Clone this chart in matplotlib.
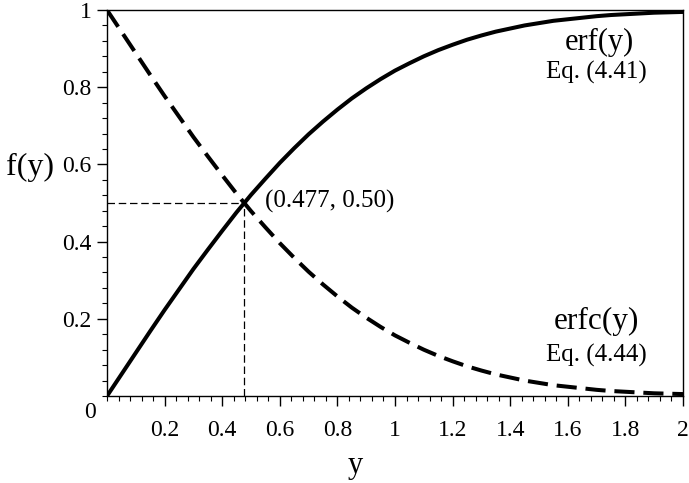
import matplotlib.pyplot as plt
from matplotlib.ticker import MultipleLocator

# DANE DO WYKRESU
y_vals = [0.00, 0.05, 0.10, 0.15, 0.20, 0.25, 0.30, 0.35, 0.40, 0.45,
          0.50, 0.55, 0.60, 0.65, 0.70, 0.75, 0.80, 0.85, 0.90, 0.95,
          1.00, 1.05, 1.10, 1.15, 1.20, 1.25, 1.30, 1.35, 1.40, 1.45,
          1.50, 1.55, 1.60, 1.65, 1.70, 1.75, 1.80, 1.85, 1.90, 1.95, 2.00]

erf_vals = [0.000, 0.056, 0.112, 0.168, 0.223, 0.276, 0.329, 0.379, 0.428, 0.476,
            0.521, 0.563, 0.604, 0.642, 0.678, 0.711, 0.742, 0.771, 0.797, 0.821,
            0.843, 0.862, 0.880, 0.896, 0.910, 0.923, 0.934, 0.944, 0.952, 0.960,
            0.966, 0.972, 0.976, 0.980, 0.984, 0.987, 0.989, 0.991, 0.993, 0.994, 0.995]

erfc_vals = [1.000, 0.944, 0.888, 0.832, 0.777, 0.724, 0.671, 0.621, 0.572, 0.524,
             0.479, 0.437, 0.396, 0.358, 0.322, 0.289, 0.258, 0.229, 0.203, 0.179,
             0.157, 0.138, 0.120, 0.104, 0.090, 0.077, 0.066, 0.056, 0.048, 0.040,
             0.034, 0.028, 0.024, 0.020, 0.016, 0.013, 0.011, 0.009, 0.007, 0.006, 0.005]

# punkt przeciecia
x_cross = 0.477
y_cross = 0.50

x_ticks = [0.2, 0.4, 0.6, 0.8, 1.0, 1.2, 1.4, 1.6, 1.8, 2.0]
x_labels = ["0.2", "0.4", "0.6", "0.8", "1", "1.2", "1.4", "1.6", "1.8", "2"]
y_ticks = [0.2, 0.4, 0.6, 0.8, 1.0]
y_labels = ["0.2", "0.4", "0.6", "0.8", "1"]

plt.rcParams["font.family"] = ["Liberation Serif", "DejaVu Serif"]

# TWORZENIE WYKRESU
fig = plt.figure(figsize=(6.89, 4.83), dpi=100)
ax = fig.add_axes([0.1553, 0.1801, 0.836, 0.7992])

ax.plot(y_vals, erf_vals, color="black", lw=2.9, solid_capstyle="butt")
ax.plot(y_vals, erfc_vals, color="black", lw=2.9, dashes=(5, 2.2))

# linie pomocnicze do punktu przeciecia
ax.plot([0, x_cross], [y_cross, y_cross], color="black", lw=0.9, dashes=(6, 3))
ax.plot([x_cross, x_cross], [0, y_cross], color="black", lw=0.9, dashes=(6, 3))

ax.set_xlim(0, 2)
ax.set_ylim(0, 1)

ax.set_xticks(x_ticks)
ax.set_xticklabels(x_labels)
ax.set_yticks(y_ticks)
ax.set_yticklabels(y_labels)
ax.xaxis.set_minor_locator(MultipleLocator(0.04))
ax.yaxis.set_minor_locator(MultipleLocator(0.04))

ax.tick_params(which="major", direction="out", length=7, width=1.0,
               labelsize=17, top=False, right=False)
ax.tick_params(which="minor", direction="out", length=3.5, width=0.8,
               top=False, right=False)
ax.tick_params(axis="x", which="major", pad=10)
ax.tick_params(axis="y", which="major", pad=4)

for s in ax.spines.values():
    s.set_linewidth(1.0)

# opisy
ax.text(0.549, 0.503, "(0.477, 0.50)", fontsize=18, ha="left", va="center")
ax.text(1.71, 0.917, "erf(y)", fontsize=22, ha="center", va="center")
ax.text(1.70, 0.837, "Eq. (4.41)", fontsize=18, ha="center", va="center")
ax.text(1.70, 0.192, "erfc(y)", fontsize=22.5, ha="center", va="center")
ax.text(1.70, 0.104, "Eq. (4.44)", fontsize=18, ha="center", va="center")

fig.text(30 / 689, 1 - 167 / 483, "f(y)", fontsize=23, ha="center", va="center")
fig.text(355 / 689, 1 - 466 / 483, "y", fontsize=22, ha="center", va="center")
fig.text(90 / 689, 1 - 413 / 483, "0", fontsize=17, ha="center", va="center")

fig.savefig("out.png", dpi=100)
